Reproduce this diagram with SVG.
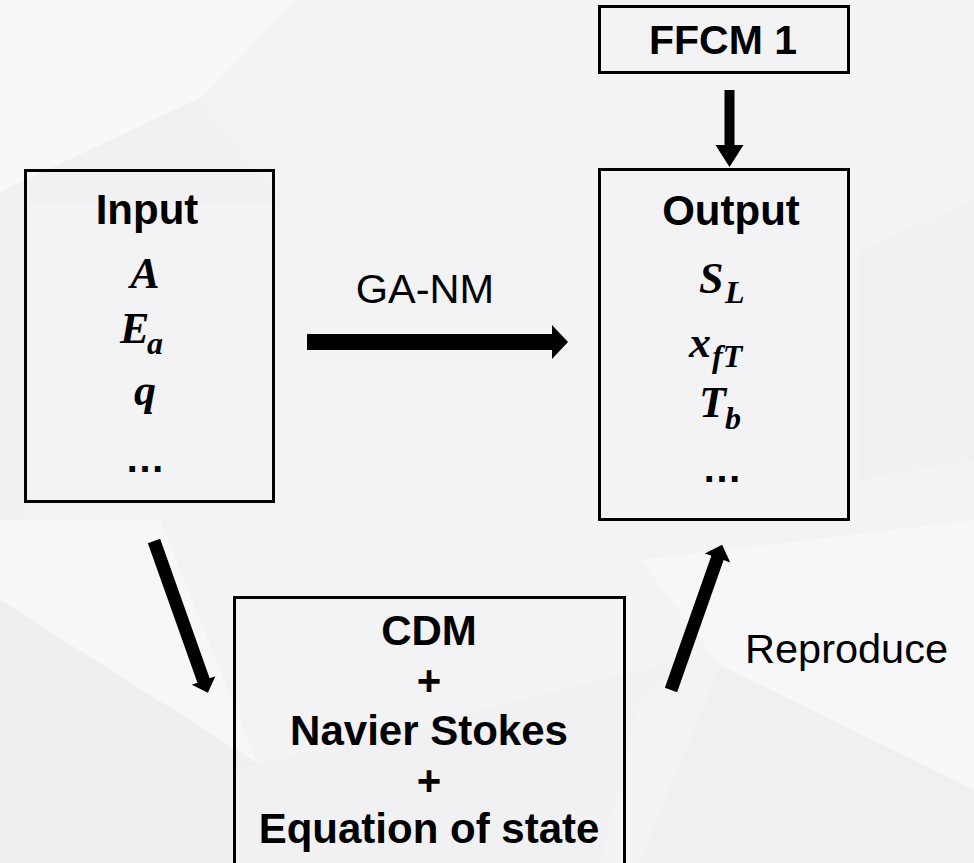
<svg xmlns="http://www.w3.org/2000/svg" width="974" height="863" viewBox="0 0 974 863">
  <style>
    .box { fill: none; stroke: #000; stroke-width: 3; }
    .title { font-family: "Liberation Sans", Arial, sans-serif; font-weight: bold; font-size: 42px; fill: #000; text-anchor: middle; }
    .label { font-family: "Liberation Sans", Arial, sans-serif; font-size: 41.5px; fill: #000; }
    .math { font-family: "Liberation Serif", "Times New Roman", serif; font-weight: bold; font-style: italic; font-size: 44px; fill: #000; }
    .sub { font-size: 32px; }
    .dots { font-family: "Liberation Sans", Arial, sans-serif; font-weight: bold; font-size: 40px; fill: #000; text-anchor: middle; }
    .arrow { fill: #000; }
  </style>

  <!-- faceted light-grey backdrop -->
  <g id="backdrop">
    <rect x="0" y="0" width="974" height="863" fill="#f3f3f5"/>
    <polygon points="0,0 295,0 200,98 0,192" fill="#f8f8fa"/>
    <polygon points="200,98 0,192 0,205 285,205" fill="#f1f1f3"/>
    <polygon points="0,205 30,205 30,600 0,600" fill="#f1f1f3"/>
    <polygon points="0,520 160,520 257,763 0,600" fill="#f7f7f9"/>
    <polygon points="0,600 257,763 234,863 0,863" fill="#efeff1"/>
    <polygon points="234,770 700,656 640,700 600,863 234,863" fill="#f1f1f3"/>
    <polygon points="640,560 974,520 974,790 720,665" fill="#f7f7f9"/>
    <polygon points="720,665 974,790 974,863 640,863" fill="#f0f0f2"/>
    <polygon points="860,250 974,200 974,460 860,480" fill="#f1f1f3"/>
  </g>

  <!-- connectors -->
  <g id="connectors">
    <!-- FFCM 1 down to Output -->
    <polygon class="arrow" points="724.5,90 734.5,90 734.5,145 743.5,145 729.5,167 715.5,145 724.5,145"/>
    <!-- GA-NM: Input to Output -->
    <polygon class="arrow" points="307,334 552,334 552,325 568,342 552,359 552,350 307,350"/>
    <!-- Input down to CDM -->
    <polygon class="arrow" transform="translate(154,541) rotate(70.44)" points="0,-6.5 148,-6.5 148,-12.5 161,0 148,12.5 148,6.5 0,6.5"/>
    <!-- CDM up to Output -->
    <polygon class="arrow" transform="translate(671,690) rotate(-70.6)" points="0,-6.5 140,-6.5 140,-13.5 154,0 140,13.5 140,6.5 0,6.5"/>
    <text class="label" x="425" y="303" text-anchor="middle">GA-NM</text>
    <text class="label" x="745" y="663">Reproduce</text>
  </g>

  <g id="ffcm">
    <rect class="box" x="599.5" y="6.5" width="249" height="66"/>
    <text class="title" x="723" y="54" style="font-size:41px">FFCM 1</text>
  </g>

  <g id="input">
    <rect class="box" x="25.5" y="170.5" width="248" height="331"/>
    <text class="title" x="147" y="224">Input</text>
    <text class="math" x="145" y="288" text-anchor="middle">A</text>
    <text class="math"><tspan x="120" y="343">E</tspan><tspan class="sub" x="147" y="354">a</tspan></text>
    <text class="math" x="145" y="405" text-anchor="middle">q</text>
    <text class="dots" x="145" y="472">…</text>
  </g>

  <g id="output">
    <rect class="box" x="599.5" y="169.5" width="249" height="350"/>
    <text class="title" x="731" y="225">Output</text>
    <text class="math"><tspan x="699" y="293">S</tspan><tspan class="sub" x="725" y="303">L</tspan></text>
    <text class="math"><tspan x="689" y="357">x</tspan><tspan class="sub" x="712" y="367">fT</tspan></text>
    <text class="math"><tspan x="699" y="417">T</tspan><tspan class="sub" x="725" y="429">b</tspan></text>
    <text class="dots" x="722" y="482">…</text>
  </g>

  <g id="model">
    <rect class="box" x="234.5" y="597.5" width="390" height="272"/>
    <text class="title" x="429" y="645">CDM</text>
    <text class="title" x="429" y="695">+</text>
    <text class="title" x="429" y="745">Navier Stokes</text>
    <text class="title" x="429" y="795">+</text>
    <text class="title" x="429" y="843">Equation of state</text>
  </g>
</svg>
